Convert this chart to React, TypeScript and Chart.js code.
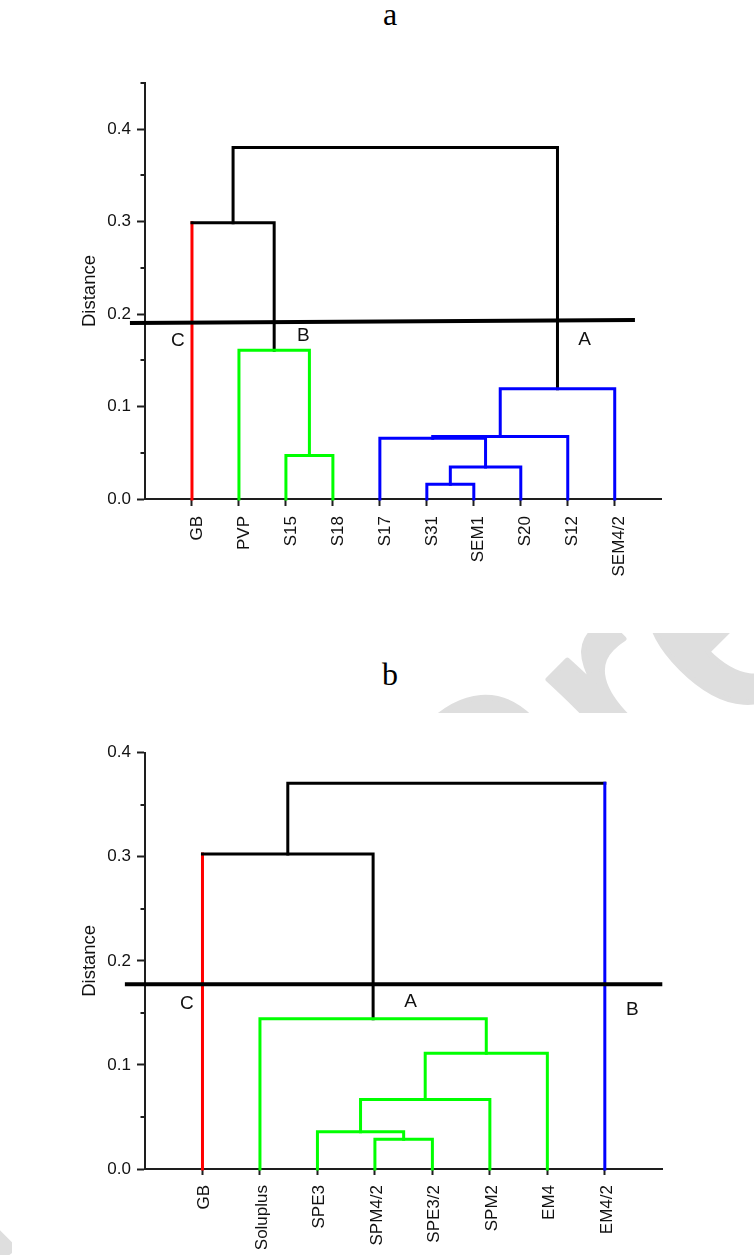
import React, { useEffect, useRef } from 'react';
import { Chart, registerables } from 'chart.js';

Chart.register(...registerables);

// ---------------- Data: dendrogram a ----------------
const leavesA = ['GB', 'PVP', 'S15', 'S18', 'S17', 'S31', 'SEM1', 'S20', 'S12', 'SEM4/2'];
const leafClusterA = ['C', 'B', 'B', 'B', 'A', 'A', 'A', 'A', 'A', 'A'];
// linkage: node ids 0..n-1 are leaves, n+k is the k-th merge
const mergeLeftA = [2, 5, 11, 4, 13, 14, 1, 0, 17];
const mergeRightA = [3, 6, 7, 12, 8, 9, 10, 16, 15];
const mergeHeightA = [0.047, 0.016, 0.0345, 0.0658, 0.0677, 0.1192, 0.1608, 0.2989, 0.3802];
const cutLineXA = [-0.32, 10.43];
const cutLineYA = [0.1903, 0.1935];
const majorTicksA = [0, 0.1, 0.2, 0.3, 0.4];
const yMaxA = 0.45;
const clusterNamesA = ['C', 'B', 'A'];
const clusterLabelXA = [0.70, 3.37, 9.36];
const clusterLabelYA = [0.1715, 0.1765, 0.1720];

// ---------------- Data: dendrogram b ----------------
const leavesB = ['GB', 'Soluplus', 'SPE3', 'SPM4/2', 'SPE3/2', 'SPM2', 'EM4', 'EM4/2'];
const leafClusterB = ['C', 'A', 'A', 'A', 'A', 'A', 'A', 'B'];
const mergeLeftB = [3, 2, 9, 10, 1, 0, 13];
const mergeRightB = [4, 8, 5, 6, 11, 12, 7];
const mergeHeightB = [0.0285, 0.0358, 0.0667, 0.1112, 0.1444, 0.3027, 0.3706];
const cutLineXB = [-0.35, 9.0];
const cutLineYB = [0.1776, 0.1776];
const majorTicksB = [0, 0.1, 0.2, 0.3, 0.4];
const yMaxB = 0.4;
const clusterNamesB = ['C', 'A', 'B'];
const clusterLabelXB = [0.73, 4.62, 8.48];
const clusterLabelYB = [0.1590, 0.1610, 0.1530];

const watermarkText = 'Journal Pre-proof';

// ---------------- Styles ----------------
const FONT = '"Liberation Sans", Arial, Helvetica, sans-serif';
const AXIS = '#1e1e1e';
const BLACK = '#000000';
const colorsA: Record<string, string> = { A: '#0000ff', B: '#00ff00', C: '#ff0000' };
const colorsB: Record<string, string> = { A: '#00ff00', B: '#0000ff', C: '#ff0000' };

type Spec = {
  leaves: string[];
  clusters: string[];
  left: number[];
  right: number[];
  height: number[];
  colors: Record<string, string>;
  cutX: number[];
  cutY: number[];
  majors: number[];
  yMax: number;
  names: string[];
  nameX: number[];
  nameY: number[];
  width: number;
  height_px: number;
  pad: { left: number; right: number; top: number; bottom: number };
  labelOffset: number;
  labelPad: number;
  tickLenX: number;
};

function buildDatasets(s: Spec) {
  const n = s.leaves.length;
  const xs: number[] = s.leaves.map((_, i) => i + 1);
  const hs: number[] = s.leaves.map(() => 0);
  const members: string[][] = s.leaves.map((_, i) => [s.clusters[i]]);
  const datasets: any[] = [];
  datasets.push({
    data: s.cutX.map((x, i) => ({ x, y: s.cutY[i] })),
    showLine: true,
    borderColor: BLACK,
    borderWidth: 4,
    pointRadius: 0,
    clip: false,
    order: -1,
  });
  s.left.forEach((l, k) => {
    const r = s.right[k];
    const h = s.height[k];
    const id = n + k;
    xs[id] = (xs[l] + xs[r]) / 2;
    hs[id] = h;
    const mem = [...members[l], ...members[r]];
    members[id] = mem;
    const mono = mem.every((c) => c === mem[0]);
    const own = mono ? s.colors[mem[0]] : BLACK;
    const leg = (child: number) => (mono ? own : child < n ? s.colors[s.clusters[child]] : BLACK);
    const segCols = [leg(l), own, leg(r)];
    datasets.push({
      data: [
        { x: xs[l], y: hs[l] },
        { x: xs[l], y: h },
        { x: xs[r], y: h },
        { x: xs[r], y: hs[r] },
      ],
      showLine: true,
      borderColor: own,
      borderWidth: 3,
      borderJoinStyle: 'miter',
      borderCapStyle: 'square',
      pointRadius: 0,
      clip: false,
      segment: { borderColor: (ctx: any) => segCols[ctx.p0DataIndex] },
    });
  });
  return datasets;
}

const isMajor = (v: number, majors: number[]) => majors.some((m) => Math.abs(m - v) < 1e-6);

function makeConfig(s: Spec): any {
  const labelPlugin = {
    id: 'clusterNames',
    afterDatasetsDraw(chart: any) {
      const { ctx, scales } = chart;
      ctx.save();
      ctx.fillStyle = '#111';
      ctx.font = `19px ${FONT}`;
      ctx.textAlign = 'center';
      ctx.textBaseline = 'middle';
      s.names.forEach((t, i) => {
        ctx.fillText(t, scales.x.getPixelForValue(s.nameX[i]), scales.y.getPixelForValue(s.nameY[i]));
      });
      ctx.restore();
    },
  };
  const minorPlugin = {
    id: 'minorTicks',
    afterDraw(chart: any) {
      const y = chart.scales.y;
      const ctx = chart.ctx;
      ctx.save();
      ctx.strokeStyle = AXIS;
      ctx.lineWidth = 2;
      y.ticks.forEach((t: any) => {
        if (!isMajor(t.value, s.majors)) {
          const py = Math.round(y.getPixelForValue(t.value));
          ctx.beginPath();
          ctx.moveTo(y.right - 4.5, py);
          ctx.lineTo(y.right, py);
          ctx.stroke();
        }
      });
      ctx.restore();
    },
  };
  return {
    type: 'scatter',
    data: { datasets: buildDatasets(s) },
    options: {
      animation: false,
      responsive: false,
      devicePixelRatio: 1,
      layout: { padding: s.pad },
      plugins: { legend: { display: false }, tooltip: { enabled: false }, title: { display: false } },
      scales: {
        x: {
          type: 'linear',
          min: 0,
          max: s.leaves.length + 1,
          afterBuildTicks: (sc: any) => {
            sc.ticks = s.leaves.map((_, i) => ({ value: i + 1 }));
          },
          afterFit: (sc: any) => {
            sc.height = 80;
          },
          ticks: {
            autoSkip: false,
            minRotation: 90,
            maxRotation: 90,
            padding: s.labelPad,
            labelOffset: s.labelOffset,
            color: '#111',
            font: { family: FONT, size: 17 },
            callback: (v: number) => s.leaves[Math.round(v) - 1] ?? '',
          },
          grid: {
            display: true,
            drawOnChartArea: false,
            drawTicks: true,
            tickLength: s.tickLenX,
            tickColor: AXIS,
            tickWidth: 2,
          },
          border: { display: true, color: AXIS, width: 2 },
        },
        y: {
          type: 'linear',
          min: 0,
          max: s.yMax,
          afterBuildTicks: (sc: any) => {
            const arr: any[] = [];
            const steps = Math.round(s.yMax / 0.05);
            for (let i = 0; i <= steps; i++) arr.push({ value: +(i * 0.05).toFixed(2) });
            sc.ticks = arr;
          },
          afterFit: (sc: any) => {
            sc.width = 70;
          },
          ticks: {
            padding: 6,
            color: '#111',
            font: { family: FONT, size: 17 },
            callback: (v: number) => (isMajor(v, s.majors) ? v.toFixed(1) : ''),
          },
          grid: {
            display: true,
            drawOnChartArea: false,
            drawTicks: true,
            tickLength: 8,
            tickWidth: 2,
            tickColor: (ctx: any) => (ctx.tick && isMajor(ctx.tick.value, s.majors) ? AXIS : 'rgba(0,0,0,0)'),
          },
          border: { display: true, color: AXIS, width: 2 },
          title: {
            display: true,
            text: 'Distance',
            color: '#111',
            font: { family: FONT, size: 18.5 },
            padding: { top: 4, bottom: 0 },
          },
        },
      },
    },
    plugins: [labelPlugin, minorPlugin],
  };
}

const specA: Spec = {
  leaves: leavesA,
  clusters: leafClusterA,
  left: mergeLeftA,
  right: mergeRightA,
  height: mergeHeightA,
  colors: colorsA,
  cutX: cutLineXA,
  cutY: cutLineYA,
  majors: majorTicksA,
  yMax: yMaxA,
  names: clusterNamesA,
  nameX: clusterLabelXA,
  nameY: clusterLabelYA,
  width: 742,
  height_px: 593,
  pad: { left: 63, right: 92.3, top: 43, bottom: 54 },
  labelOffset: 5,
  labelPad: 10,
  tickLenX: 7,
};

const specB: Spec = {
  leaves: leavesB,
  clusters: leafClusterB,
  left: mergeLeftB,
  right: mergeRightB,
  height: mergeHeightB,
  colors: colorsB,
  cutX: cutLineXB,
  cutY: cutLineYB,
  majors: majorTicksB,
  yMax: yMaxB,
  names: clusterNamesB,
  nameX: clusterLabelXB,
  nameY: clusterLabelYB,
  width: 742,
  height_px: 542,
  pad: { left: 63, right: 91.7, top: 39.7, bottom: 6 },
  labelOffset: 2,
  labelPad: 10,
  tickLenX: 6,
};

function Dendrogram({ spec, left, top }: { spec: Spec; left: number; top: number }) {
  const ref = useRef<HTMLCanvasElement>(null);
  useEffect(() => {
    const chart = new Chart(ref.current as HTMLCanvasElement, makeConfig(spec));
    return () => chart.destroy();
  }, [spec]);
  return (
    <canvas
      ref={ref}
      width={spec.width}
      height={spec.height_px}
      style={{
        position: 'absolute',
        left,
        top,
        width: spec.width,
        height: spec.height_px,
        background: '#ffffff',
        display: 'block',
      }}
    />
  );
}

const titleStyle = (top: number): React.CSSProperties => ({
  position: 'absolute',
  left: 390,
  top,
  transform: 'translateX(-50%)',
  fontFamily: '"Liberation Serif", "Times New Roman", serif',
  fontSize: 32,
  lineHeight: '32px',
  color: '#000',
  whiteSpace: 'nowrap',
});

export default function App() {
  const wmX = -330;
  const wmY = 1804;
  return (
    <div
      style={{
        position: 'absolute',
        left: 0,
        top: 0,
        width: 754,
        height: 1255,
        background: '#ffffff',
        overflow: 'hidden',
      }}
    >
      <svg
        width={754}
        height={1255}
        style={{ position: 'absolute', left: 0, top: 0 }}
      >
        <text
          x={wmX}
          y={wmY}
          transform={`rotate(-45 ${wmX} ${wmY})`}
          fontFamily={FONT}
          fontSize={330}
          fill="#dedede"
          stroke="#dedede"
          strokeWidth={5}
          strokeLinejoin="round"
        >
          {watermarkText}
        </text>
      </svg>
      <div style={titleStyle(-2)}>a</div>
      <Dendrogram spec={specA} left={12} top={40} />
      <div style={titleStyle(658)}>b</div>
      <Dendrogram spec={specB} left={12} top={713} />
    </div>
  );
}
